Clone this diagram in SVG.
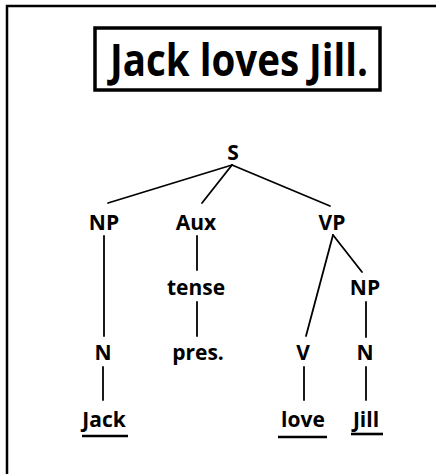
<svg xmlns="http://www.w3.org/2000/svg" width="436" height="474" viewBox="0 0 436 474">
<style>
.lbl{font-family:"Open Sans","Noto Sans",sans-serif;font-weight:bold;font-size:21px;fill:#000;text-anchor:middle}
.ln{stroke:#000;stroke-width:1.8;fill:none;stroke-linecap:round}
.ul{stroke:#000;stroke-width:2.6;fill:none}
</style>
<rect width="436" height="474" fill="#fff"/>
<g id="frame"><path d="M7 474 V6 H436" stroke="#000" stroke-width="2.5" fill="none"/></g>
<g id="title">
<rect x="95" y="28" width="285" height="62" fill="#fff" stroke="#000" stroke-width="3.5"/>
<text x="239" y="76" font-family="Open Sans, Noto Sans, sans-serif" font-weight="bold" font-size="44" text-anchor="middle" textLength="258" lengthAdjust="spacingAndGlyphs">Jack loves Jill.</text>
</g>
<g id="connectors">
<line class="ln" x1="232" y1="165" x2="108" y2="203"/>
<line class="ln" x1="232" y1="165" x2="202" y2="203"/>
<line class="ln" x1="232" y1="165" x2="330" y2="206"/>
<line class="ln" x1="104" y1="236" x2="104" y2="336"/>
<line class="ln" x1="197" y1="236" x2="197" y2="270"/>
<line class="ln" x1="333" y1="235" x2="306" y2="336"/>
<line class="ln" x1="333" y1="235" x2="362" y2="272"/>
<line class="ln" x1="197" y1="302" x2="197" y2="336"/>
<line class="ln" x1="366" y1="302" x2="366" y2="337"/>
<line class="ln" x1="103" y1="367" x2="103" y2="400"/>
<line class="ln" x1="304" y1="367" x2="304" y2="400"/>
<line class="ln" x1="366" y1="367" x2="366" y2="400"/>
</g>
<g id="S"><text class="lbl" x="233" y="160">S</text></g>
<g id="NP1"><text class="lbl" x="104" y="230">NP</text></g>
<g id="Aux"><text class="lbl" x="196" y="230">Aux</text></g>
<g id="VP"><text class="lbl" x="332" y="230">VP</text></g>
<g id="tense"><text class="lbl" x="196" y="295">tense</text></g>
<g id="NP2"><text class="lbl" x="365" y="295">NP</text></g>
<g id="N1"><text class="lbl" x="103" y="360">N</text></g>
<g id="pres"><text class="lbl" x="198" y="360">pres.</text></g>
<g id="V"><text class="lbl" x="303" y="360">V</text></g>
<g id="N2"><text class="lbl" x="365" y="360">N</text></g>
<g id="Jack"><text class="lbl" x="104" y="427">Jack</text><line class="ul" x1="82" y1="436" x2="128" y2="436"/></g>
<g id="love"><text class="lbl" x="303" y="427">love</text><line class="ul" x1="278" y1="437" x2="327" y2="437"/></g>
<g id="Jill"><text class="lbl" x="366" y="427">Jill</text><line class="ul" x1="351" y1="434" x2="383" y2="434"/></g>
</svg>
